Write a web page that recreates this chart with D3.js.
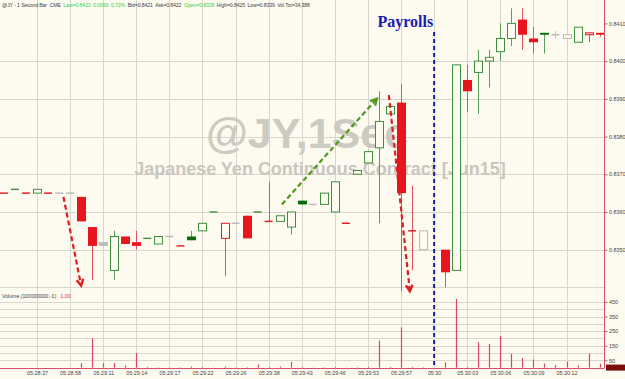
<!DOCTYPE html>
<html>
<head>
<meta charset="utf-8">
<script src="https://cdn.jsdelivr.net/npm/d3@7"></script>
<style>
  body { margin: 0; background: #fdfaf0; }
  svg { display: block; font-family: "Liberation Sans", Arial, sans-serif; }
</style>
</head>
<body>
<svg id="chart" width="625" height="379"></svg>
<script>
// 1 second bars, @JY, around the payrolls release
let prevClose = 0.8366;

let opens = [
    0.8365, 0.8366, 0.8365, 0.8365, 0.8365, 0.8365, 0.8365, 0.8364, 0.8356, 0.8352,
    0.83445, 0.83535, 0.8352, 0.8353, 0.83515, 0.83535, 0.8351, 0.83535, 0.8355, 0.8360,
    0.8353, 0.8357, 0.8359, 0.8360, 0.83575, 0.83575, 0.8356, 0.8363, 0.8362, 0.8362,
    0.8360, 0.8357, 0.8370, 0.8373, 0.8377, 0.8386, 0.8389, 0.8355, 0.8350, null,
    0.8350, 0.83445, 0.8395, 0.8397, 0.8400, 0.84025, 0.8406, 0.8411, 0.8406, 0.84075,
    0.8407, 0.8406, 0.8405, 0.8407, 0.84075
];
let highs = [
    0.8365, 0.8366, 0.8365, 0.8366, 0.8365, 0.8365, 0.8365, 0.8364, 0.8356, 0.8352,
    0.8355, 0.83535, 0.8355, 0.8353, 0.83535, 0.83535, 0.8351, 0.8355, 0.8357, 0.8360,
    0.8357, 0.8357, 0.8359, 0.8360, 0.8368, 0.8359, 0.8360, 0.8363, 0.8362, 0.8365,
    0.8368, 0.8357, 0.8371, 0.8376, 0.8392, 0.8388, 0.8394, 0.8367, 0.8355, null,
    0.8350, 0.8399, 0.8399, 0.8403, 0.8403, 0.8410, 0.8414, 0.8414, 0.8409, 0.84075,
    0.8408, 0.8407, 0.8409, 0.84075, 0.84075
];
let lows = [
    0.8365, 0.8366, 0.8365, 0.8365, 0.8365, 0.8365, 0.8365, 0.83575, 0.8342, 0.8351,
    0.8342, 0.83515, 0.8350, 0.8353, 0.83515, 0.83535, 0.8351, 0.83525, 0.8355, 0.8360,
    0.8343, 0.8357, 0.8353, 0.8360, 0.83575, 0.83575, 0.8354, 0.8362, 0.8362, 0.8362,
    0.8360, 0.8357, 0.8370, 0.8373, 0.8357, 0.8386, 0.8339, 0.83445, 0.8350, null,
    0.8340, 0.83445, 0.83865, 0.8386, 0.8393, 0.8400, 0.8404, 0.8403, 0.8402, 0.8402,
    0.8406, 0.8406, 0.8405, 0.8405, 0.84065
];
let closes = [
    0.8365, 0.8366, 0.8365, 0.8366, 0.8365, 0.8365, 0.8365, 0.83575, 0.8351, 0.8351,
    0.83535, 0.83515, 0.8351, 0.8353, 0.83535, 0.83535, 0.8351, 0.83525, 0.8357, 0.8360,
    0.8357, 0.8357, 0.8353, 0.8360, 0.83575, 0.8359, 0.8360, 0.8362, 0.8362, 0.8365,
    0.8368, 0.8357, 0.8371, 0.8376, 0.8384, 0.8388, 0.8365, 0.8355, 0.8355, null,
    0.8344, 0.8399, 0.8392, 0.8400, 0.8401, 0.8406, 0.8410, 0.8407, 0.8405, 0.8407,
    0.8407, 0.8407, 0.8409, 0.84075, 0.8407
];
let volumes = [
    0, 0, 0, 0, 0, 0, 0, 30, 200, 30,
    30, 15, 100, 5, 3, 2, 3, 8, 3, 2,
    8, 2, 3, 20, 3, 8, 40, 3, 2, 3,
    5, 2, 3, 5, 185, 5, 275, 5, 3, 0,
    36, 470, 4, 173, 162, 216, 93, 65, 55, 28,
    17, 41, 15, 97, 26
];

let timeTickBars = [3, 6, 9, 12, 15, 18, 21, 24, 27, 30, 33, 36, 39, 42, 45, 48, 51];
let timeTickLabels = ["05:28:37", "05:28:58", "05:29:11", "05:29:14", "05:29:17", "05:29:22",
    "05:29:26", "05:29:38", "05:29:43", "05:29:46", "05:29:53", "05:29:57", "05:30",
    "05:30:03", "05:30:06", "05:30:09", "05:30:12"];
let priceTicks = [0.8350, 0.8360, 0.8370, 0.8380, 0.8390, 0.8400, 0.8410];
let priceGrid = [0.8340, 0.8350, 0.8360, 0.8370, 0.8380, 0.8390, 0.8400];
let volumeTicks = [50, 150, 250, 350, 450];
let volumeGrid = [50, 100, 150, 200, 250, 300, 350, 400, 450];

let payrollsBar = 39;
// hand drawn arrows, [bar, price] -> [bar, price]
let arrowFrom = [[5.4, 0.8364], [25.2, 0.8362], [34.9, 0.8391]];
let arrowTo = [[7.0, 0.83405], [33.8, 0.8390], [36.8, 0.8339]];
let arrowColors = ['#e01c1c', '#4f9a1c', '#e01c1c'];

let header = [
    ["@JY - 1 Second Bar  CME  ", '#444'],
    ["Last=0.8422  0.0060  0.72%  ", '#3fcf3f'],
    ["Bid=0.8421  Ask=0.8422  ", '#444'],
    ["Open=0.8339  ", '#3fcf3f'],
    ["High=0.8425  Low=0.8339  Vol Tot=34,388", '#444']
];

let svg = d3.select('#chart');
let axisRight = 604.5;

let x = d3.scaleLinear().domain([3, 51]).range([37, 566.5]);
let y = d3.scaleLinear().domain([0.8340, 0.8410]).range([287.4, 23.4]);
let yv = d3.scaleLinear().domain([0, 500]).range([367.6, 294.6]);

let crisp = (v) => Math.round(v) + 0.5;

svg.append('rect').attr('width', 625).attr('height', 379).attr('fill', '#fdfaf0');

// grid
let grid = svg.append('g').attr('stroke', '#d9d6cb').attr('stroke-width', 1);
grid.selectAll('.vg').data(timeTickBars).enter().append('line')
    .attr('x1', (d) => crisp(x(d))).attr('x2', (d) => crisp(x(d)))
    .attr('y1', 0).attr('y2', 368);
grid.selectAll('.hg').data(priceGrid).enter().append('line')
    .attr('x1', 0).attr('x2', axisRight)
    .attr('y1', (d) => crisp(y(d))).attr('y2', (d) => crisp(y(d)));
grid.selectAll('.vvg').data(volumeGrid).enter().append('line')
    .attr('x1', 0).attr('x2', axisRight)
    .attr('y1', (d) => crisp(yv(d))).attr('y2', (d) => crisp(yv(d)));

// watermark
svg.append('text')
    .attr('x', 307).attr('y', 148)
    .attr('text-anchor', 'middle')
    .attr('font-size', 43).attr('font-weight', 'bold')
    .attr('fill', '#cdcac2')
    .text('@JY,1Sec');
svg.append('text')
    .attr('x', 320).attr('y', 175)
    .attr('text-anchor', 'middle')
    .attr('font-size', 18).attr('font-weight', 'bold')
    .attr('fill', '#cac7bf')
    .text('Japanese Yen Continuous Contract [Jun15]');

// candles
let bars = [];
let lastClose = prevClose;
opens.forEach((o, i) => {
    if (o === null) return;
    let c = closes[i];
    let dir = c > lastClose ? 'up' : (c < lastClose ? 'down' : 'flat');
    bars.push({ i: i, o: o, h: highs[i], l: lows[i], c: c, dir: dir });
    lastClose = c;
});

let lineColor = { up: '#3f8f3f', down: '#e8141e', flat: '#b9b9b9' };
let fillColor = { up: '#0b6b0b', down: '#e8141e', flat: '#b9b9b9' };
let wickColor = { up: '#5a9e5a', down: '#e6505f', flat: '#c4c4c4' };

let candle = svg.selectAll('.candle').data(bars).enter().append('g').attr('class', 'candle');

candle.append('line')
    .attr('x1', (d) => crisp(x(d.i))).attr('x2', (d) => crisp(x(d.i)))
    .attr('y1', (d) => y(d.h)).attr('y2', (d) => y(d.l))
    .attr('stroke', (d) => wickColor[d.dir]).attr('stroke-width', 1);

candle.filter((d) => d.o === d.c).append('line')
    .attr('x1', (d) => x(d.i) - 4).attr('x2', (d) => x(d.i) + 4)
    .attr('y1', (d) => y(d.c)).attr('y2', (d) => y(d.c))
    .attr('stroke', (d) => lineColor[d.dir]).attr('stroke-width', 1.4);

candle.filter((d) => d.c > d.o).append('rect')
    .attr('x', (d) => crisp(x(d.i)) - 4)
    .attr('width', 8)
    .attr('y', (d) => y(d.c))
    .attr('height', (d) => y(d.o) - y(d.c))
    .attr('fill', '#fdfaf0')
    .attr('stroke', (d) => lineColor[d.dir]).attr('stroke-width', 1);

candle.filter((d) => d.c < d.o).append('rect')
    .attr('x', (d) => crisp(x(d.i)) - 4.5)
    .attr('width', 9)
    .attr('y', (d) => y(d.o))
    .attr('height', (d) => Math.max(1.5, y(d.c) - y(d.o)))
    .attr('fill', (d) => fillColor[d.dir]);

// volume
svg.selectAll('.vol').data(volumes.map((v, i) => ({ i: i, v: v })).filter((d) => d.v > 0))
    .enter().append('line')
    .attr('x1', (d) => crisp(x(d.i))).attr('x2', (d) => crisp(x(d.i)))
    .attr('y1', yv(0)).attr('y2', (d) => yv(d.v))
    .attr('stroke', '#d9465f').attr('stroke-width', 1.2);

let volLabel = svg.append('text')
    .attr('x', 2).attr('y', 297.5)
    .attr('font-size', 5.2)
    .attr('xml:space', 'preserve');
volLabel.append('tspan').attr('fill', '#444').text('Volume (100000000,-1)   ');
volLabel.append('tspan').attr('fill', '#e03040').text('1.00');

// axes
let priceAxis = svg.append('g')
    .attr('transform', 'translate(' + axisRight + ',0)')
    .call(d3.axisRight(y).tickValues(priceTicks).tickFormat(d3.format('.4f')).tickSize(3).tickPadding(1.5));
let volAxis = svg.append('g')
    .attr('transform', 'translate(' + axisRight + ',0)')
    .call(d3.axisRight(yv).tickValues(volumeTicks).tickSize(3).tickPadding(1.5));
let timeAxis = svg.append('g')
    .attr('transform', 'translate(0,368)')
    .call(d3.axisBottom(x).tickValues(timeTickBars)
        .tickFormat((d, i) => timeTickLabels[i]).tickSize(0).tickPadding(3.5));

[priceAxis, volAxis, timeAxis].forEach((a) => {
    a.select('.domain').remove();
    a.selectAll('text').attr('font-size', 5.4).attr('fill', '#444')
        .attr('font-family', '"Liberation Sans", Arial, sans-serif');
    a.selectAll('.tick line').attr('stroke', '#777');
});

svg.append('line')
    .attr('x1', axisRight).attr('x2', axisRight).attr('y1', 0).attr('y2', 368)
    .attr('stroke', '#d9506c').attr('stroke-width', 1);
svg.append('line')
    .attr('x1', 0).attr('x2', axisRight).attr('y1', 368.5).attr('y2', 368.5)
    .attr('stroke', '#d9506c').attr('stroke-width', 1);
svg.append('rect')
    .attr('x', 606).attr('y', yv(0) - 3).attr('width', 19).attr('height', 6)
    .attr('fill', '#7c0d0d');

// payrolls marker
svg.append('line')
    .attr('x1', x(payrollsBar)).attr('x2', x(payrollsBar))
    .attr('y1', 32).attr('y2', 368)
    .attr('stroke', '#1c1ca8').attr('stroke-width', 2)
    .attr('stroke-dasharray', '4,3');
svg.append('text')
    .attr('x', x(payrollsBar) - 1).attr('y', 27)
    .attr('text-anchor', 'end')
    .attr('font-family', '"Liberation Serif", "Times New Roman", serif')
    .attr('font-size', 16).attr('font-weight', 'bold')
    .attr('fill', '#1a1ab4')
    .text('Payrolls');

// arrows
arrowFrom.forEach((f, k) => {
    let x1 = x(f[0]), y1 = y(f[1]);
    let x2 = x(arrowTo[k][0]), y2 = y(arrowTo[k][1]);
    let ang = Math.atan2(y2 - y1, x2 - x1);
    let len = 7, spread = 0.5;
    svg.append('line')
        .attr('x1', x1).attr('y1', y1).attr('x2', x2).attr('y2', y2)
        .attr('stroke', arrowColors[k]).attr('stroke-width', 2.2)
        .attr('stroke-dasharray', '5,3');
    let p1 = [x2 - len * Math.cos(ang - spread), y2 - len * Math.sin(ang - spread)];
    let p2 = [x2 - len * Math.cos(ang + spread), y2 - len * Math.sin(ang + spread)];
    svg.append('path')
        .attr('d', 'M' + p1 + 'L' + [x2, y2] + 'L' + p2)
        .attr('fill', 'none')
        .attr('stroke', arrowColors[k]).attr('stroke-width', 2.4);
});

// header line
let head = svg.append('text')
    .attr('x', 2).attr('y', 6.5)
    .attr('font-size', 5.2)
    .attr('textLength', 308).attr('lengthAdjust', 'spacing')
    .attr('xml:space', 'preserve');
header.forEach((h) => {
    head.append('tspan').attr('fill', h[1]).text(h[0]);
});
</script>
</body>
</html>
